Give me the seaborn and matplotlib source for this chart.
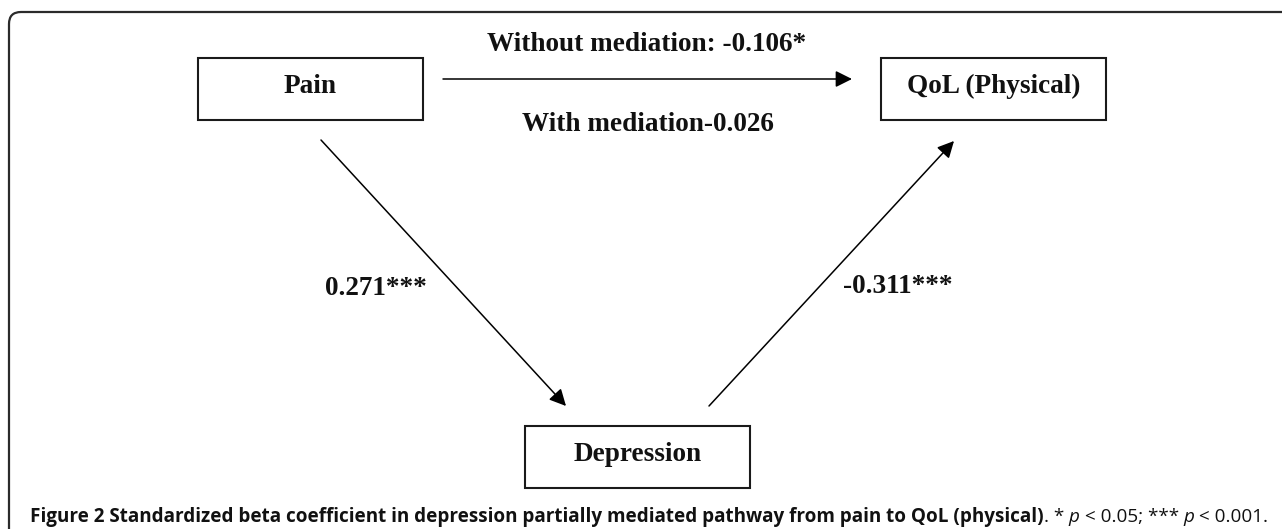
import matplotlib
matplotlib.use("Agg")
import matplotlib.pyplot as plt
import seaborn as sns
from matplotlib.patches import Rectangle, PathPatch
from matplotlib.path import Path

# ---- data ----
nodes = ["Pain", "QoL (Physical)", "Depression"]
beta_a = 0.271          # Pain -> Depression
stars_a = "***"
beta_b = -0.311         # Depression -> QoL
stars_b = "***"
beta_total = -0.106     # Pain -> QoL without mediation
stars_total = "*"
beta_direct = -0.026    # Pain -> QoL with mediation
stars_direct = ""
caption_bold = "Figure 2 Standardized beta coefficient in depression partially mediated pathway from pain to QoL (physical)"
caption_tail = [(". * ", "normal"), ("p", "italic"), (" < 0.05; *** ", "normal"), ("p", "italic"), (" < 0.001.", "normal")]

sns.set_theme(style="white")
plt.rcParams["font.family"] = ["Liberation Serif", "DejaVu Serif"]

W, H = 1282, 529
fig = plt.figure(figsize=(W / 100, H / 100), dpi=100)
ax = fig.add_axes([0, 0, 1, 1])
ax.set_xlim(0, W)
ax.set_ylim(H, 0)
ax.axis("off")

# outer frame (top + left, rounded corner)
r = 12
verts = [(9, H + 5), (9, 12 + r), (9, 12), (9 + r, 12), (W + 5, 12)]
codes = [Path.MOVETO, Path.LINETO, Path.CURVE3, Path.CURVE3, Path.LINETO]
ax.add_patch(PathPatch(Path(verts, codes), fill=False, lw=1.6, edgecolor="#2b2b2b"))

# boxes
boxes = {
    "Pain": (198, 58, 225, 62),
    "QoL (Physical)": (881, 58, 225, 62),
    "Depression": (525, 426, 225, 62),
}
baselines = {"Pain": 93, "QoL (Physical)": 93, "Depression": 461}
fs = 19.6
for name in nodes:
    x, y, w, h = boxes[name]
    ax.add_patch(Rectangle((x, y), w, h, fill=False, lw=1.5, edgecolor="#1a1a1a"))
    ax.text(x + w / 2, baselines[name], name, ha="center", va="baseline",
            fontsize=fs, fontweight="bold", color="#111111")

# arrows
aprops = dict(arrowstyle="-|>", lw=1.1, color="black", mutation_scale=25,
              shrinkA=0, shrinkB=0)
ax.annotate("", xy=(852, 79), xytext=(443, 79), arrowprops=aprops)
ax.annotate("", xy=(566, 406), xytext=(321, 140), arrowprops=aprops)
ax.annotate("", xy=(954, 141), xytext=(709, 406), arrowprops=aprops)

def fmt(v, s):
    return f"{v:.3f}{s}"

ax.text(647, 51, f"Without mediation: {fmt(beta_total, stars_total)}", ha="center",
        va="baseline", fontsize=fs, fontweight="bold", color="#111111")
ax.text(648, 131, f"With mediation{fmt(beta_direct, stars_direct)}", ha="center",
        va="baseline", fontsize=fs, fontweight="bold", color="#111111")
ax.text(325, 295, fmt(beta_a, stars_a), ha="left", va="baseline",
        fontsize=fs, fontweight="bold", color="#111111")
ax.text(843, 293, fmt(beta_b, stars_b), ha="left", va="baseline",
        fontsize=fs, fontweight="bold", color="#111111")

# caption with mixed styles, fitted to width
cap_family = ["Open Sans", "DejaVu Sans"]
x0 = 30
target_w = 1266 - x0
renderer = fig.canvas.get_renderer()

def draw_caption(size):
    arts = []
    x = x0
    pieces = [(caption_bold, "normal", "bold")] + [(t, st, "normal") for t, st in caption_tail]
    for txt, style, weight in pieces:
        t = ax.text(x, 522, txt, ha="left", va="baseline", fontsize=size,
                    family=cap_family, fontstyle=style, fontweight=weight, color="#111111")
        bb = t.get_window_extent(renderer)
        x = bb.x1
        arts.append(t)
    return arts, x - x0

size = 13.0
for _ in range(3):
    arts, width = draw_caption(size)
    for a in arts:
        a.remove()
    size = size * target_w / width
arts, width = draw_caption(size)

fig.savefig("out.png", dpi=100)
